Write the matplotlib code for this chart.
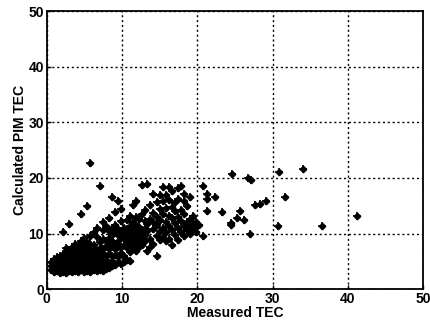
import numpy as np
from matplotlib import pyplot as plt

plt.rcParams["font.family"] = ["Liberation Sans", "DejaVu Sans"]

# measured TEC (x) and the PIM TEC values seen at each x column
columns = [
    (0.6, [3.5, 4.2, 4.8]),
    (1.0, [3.0, 3.6, 4.3, 4.9, 5.4]),
    (1.4, [3.2, 3.8, 4.5, 5.1, 5.8]),
    (1.8, [2.9, 3.5, 4.1, 4.7, 5.3, 6.0]),
    (2.2, [3.1, 3.7, 4.4, 5.0, 5.6, 6.3, 10.3]),
    (2.6, [2.9, 3.4, 4.0, 4.6, 5.2, 5.9, 6.6, 7.4]),
    (3.0, [3.2, 3.8, 4.3, 5.0, 5.5, 6.2, 7.0, 11.7]),
    (3.4, [3.0, 3.5, 4.1, 4.7, 5.3, 6.0, 6.7, 7.6]),
    (3.8, [3.3, 3.9, 4.5, 5.1, 5.8, 6.4, 7.2, 8.2]),
    (4.2, [3.0, 3.6, 4.2, 4.9, 5.5, 6.1, 6.9, 7.8]),
    (4.5, [3.4, 4.0, 4.6, 5.2, 5.9, 6.6, 7.4, 8.6, 13.5]),
    (5.0, [3.1, 3.7, 4.4, 5.0, 5.7, 6.3, 7.1, 8.0, 9.2]),
    (5.3, [3.3, 3.9, 4.6, 5.3, 6.0, 6.8, 7.6, 8.5, 14.9]),
    (5.7, [3.0, 3.6, 4.2, 4.9, 5.6, 6.4, 7.3, 8.2, 9.6, 22.7]),
    (6.2, [3.4, 4.0, 4.7, 5.4, 6.1, 7.0, 7.9, 10.2]),
    (6.6, [3.2, 3.8, 4.5, 5.2, 6.0, 6.8, 9.3, 11.0]),
    (7.0, [3.5, 4.2, 4.9, 5.7, 6.5, 7.4, 8.4, 18.5]),
    (7.4, [3.3, 4.0, 4.8, 6.3, 7.2, 9.0, 10.6, 12.0]),
    (7.8, [3.6, 4.4, 5.2, 6.0, 7.8, 8.7, 11.3]),
    (8.2, [3.8, 4.6, 6.3, 7.2, 8.2, 9.2, 10.4, 12.8]),
    (8.6, [4.1, 5.0, 5.9, 7.7, 8.7, 9.8, 11.0, 16.5]),
    (9.0, [4.4, 6.2, 7.2, 8.2, 10.3, 11.6, 13.9]),
    (9.4, [4.8, 5.8, 7.6, 8.6, 9.7, 10.8, 15.8]),
    (9.8, [4.5, 6.5, 7.5, 9.5, 10.5, 12.2, 14.5]),
    (10.2, [4.9, 5.9, 8.0, 9.0, 10.0, 11.0]),
    (10.6, [5.2, 7.4, 8.5, 9.6, 10.7, 12.5]),
    (11.0, [5.0, 6.6, 7.8, 9.0, 10.1, 11.4, 13.2]),
    (11.4, [7.2, 8.4, 9.5, 10.6, 12.0, 15.2]),
    (11.8, [6.9, 8.0, 9.2, 10.4, 11.6, 13.0, 15.8]),
    (12.2, [7.6, 8.8, 10.0, 11.2, 12.7]),
    (12.6, [7.9, 9.2, 10.5, 13.5, 18.7]),
    (13.0, [8.6, 9.8, 11.0, 12.3, 14.2]),
    (13.3, [6.8, 10.4, 11.8, 18.9]),
    (13.7, [7.5, 9.0, 12.6, 15.1]),
    (14.1, [8.2, 10.8, 12.0, 13.7, 17.1]),
    (14.6, [5.9, 9.6, 11.5, 13.0, 15.6]),
    (15.0, [8.8, 10.4, 12.4, 14.4, 16.9]),
    (15.4, [9.4, 11.0, 13.5, 15.8, 18.3]),
    (15.8, [8.6, 10.2, 12.0, 14.6, 17.0]),
    (16.2, [9.0, 11.4, 13.2, 16.0, 18.4]),
    (16.6, [8.0, 10.6, 12.8, 14.8, 17.7]),
    (17.0, [9.8, 11.9, 14.1, 15.6]),
    (17.4, [8.9, 11.0, 13.0, 16.3, 18.1]),
    (17.8, [10.2, 12.2, 14.3, 18.6]),
    (18.2, [9.5, 11.3, 13.6, 15.8, 17.2]),
    (18.6, [10.6, 12.0, 14.9]),
    (19.0, [9.9, 11.4, 12.6, 16.6]),
    (19.4, [10.8, 11.8, 13.2]),
    (19.8, [10.2, 11.2, 12.1]),
    (20.2, [11.6]),
    (20.7, [9.5, 18.5]),
    (21.3, [17.1, 16.2, 14.0]),
    (22.3, [16.5]),
    (23.3, [13.8]),
    (24.5, [11.9, 11.5]),
    (24.6, [20.7]),
    (25.3, [12.8]),
    (25.7, [14.0]),
    (26.2, [12.4]),
    (26.7, [20.0]),
    (27.0, [9.9]),
    (27.1, [19.6]),
    (27.7, [15.1]),
    (28.3, [15.3]),
    (29.1, [15.8]),
    (30.7, [11.3]),
    (30.9, [21.0]),
    (31.6, [16.5]),
    (34.0, [21.6]),
    (36.6, [11.3]),
    (41.2, [13.1]),
]

measured = np.array([x for x, ys in columns for _ in ys])
calculated = np.array([y for _, ys in columns for y in ys])

fig = plt.figure(figsize=(4.30, 3.26), dpi=100)
ax = fig.add_axes([0.109, 0.113, 0.875, 0.853])

ax.plot(measured, calculated, "D", ms=3.3, color="black", mec="black")
ax.plot(measured, calculated, "+", ms=6.0, mew=1.2, color="black")

ax.set_xlim(0, 50)
ax.set_ylim(0, 50)
ax.set_xticks(np.arange(0, 51, 10))
ax.set_yticks(np.arange(0, 51, 10))
ax.grid(True, color="black", linestyle=(0, (1.5, 2)), linewidth=1.0)
ax.tick_params(direction="in", length=3, width=1, labelsize=10, pad=2)
for lab in ax.get_xticklabels() + ax.get_yticklabels():
    lab.set_fontweight("bold")
for sp in ax.spines.values():
    sp.set_linewidth(1.3)

ax.set_xlabel("Measured TEC", fontsize=10, fontweight="bold", labelpad=0)
ax.set_ylabel("Calculated PIM TEC", fontsize=10, fontweight="bold", labelpad=1)

fig.savefig("out.png", dpi=100)
